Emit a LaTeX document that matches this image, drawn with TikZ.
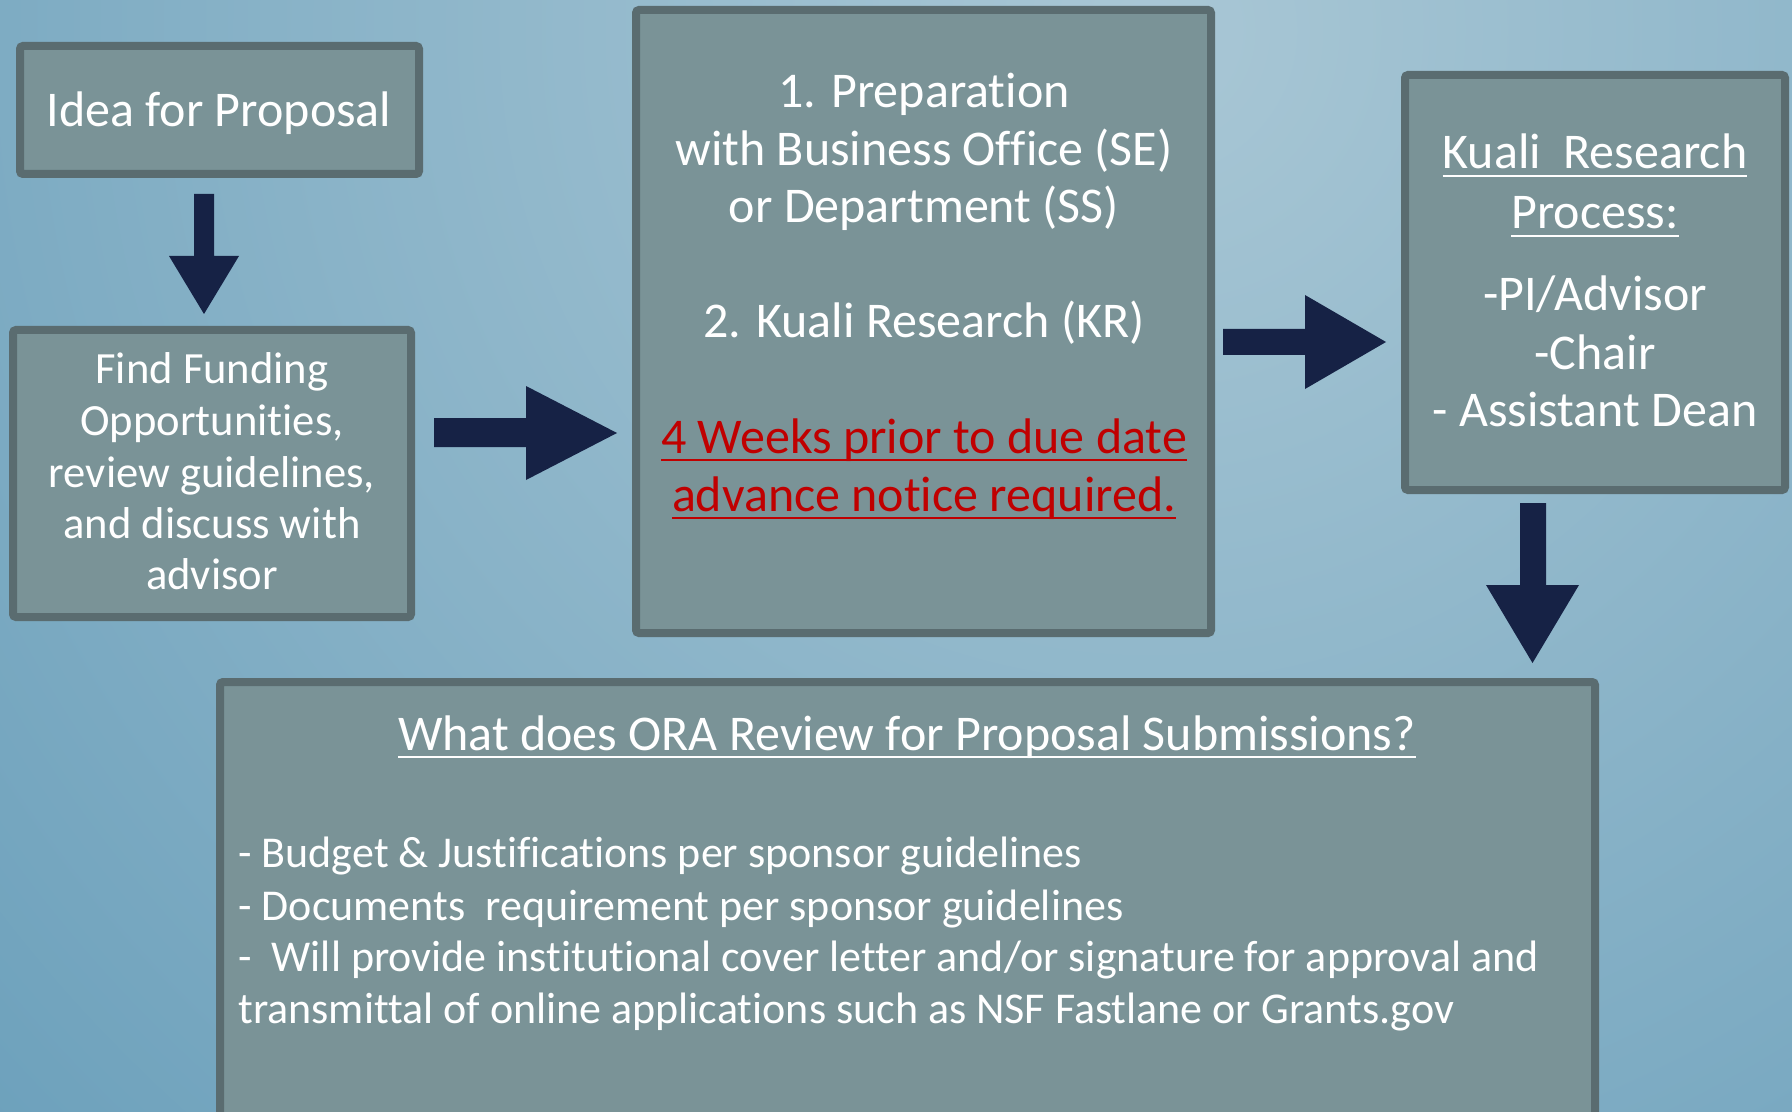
\documentclass[tikz,border=0pt]{standalone}
\usepackage{fontspec}
\setmainfont{Carlito}[Ligatures=NoCommon]
\definecolor{bgin}{HTML}{A9C7D5}
\definecolor{bgout}{HTML}{5A95B4}
\definecolor{boxfill}{HTML}{7A9397}
\definecolor{boxdraw}{HTML}{5A6C70}
\definecolor{arrowc}{HTML}{162245}
\definecolor{redtxt}{HTML}{C00000}
\newcommand\myul[1]{\setbox0\hbox{#1}\rlap{\rule[-4pt]{\wd0}{1.1pt}}\box0}
\begin{document}
\begin{tikzpicture}[x=0.5pt,y=-0.5pt,
  box/.style={draw=boxdraw, fill=boxfill, line width=4pt, rounded corners=1.5pt, inner sep=0},
  txt/.style={anchor=base, inner sep=0, text=white, font=\fontsize{25}{30}\selectfont},
  stxt/.style={txt, font=\fontsize{22.3}{27}\selectfont},
  ltxt/.style={txt, anchor=base west, font=\fontsize{22}{27}\selectfont},
  blockarrow/.style={fill=arrowc, draw=none}]
\useasboundingbox (0,0) rectangle (1792,1112);
\begin{scope}
\clip (0,0) rectangle (1792,1112);
\shade[inner color=bgin, outer color=bgout] (1150,30) circle (2100);
\end{scope}
% boxes
\node[box, minimum width=199.5pt, minimum height=64pt] (idea) at (219.5,110) {};
\node[box, minimum width=199pt, minimum height=143.5pt] (find) at (212,473.5) {};
\node[box, minimum width=287.5pt, minimum height=311.5pt] (prep) at (923.5,321.5) {};
\node[box, minimum width=190pt, minimum height=207.5pt] (kuali) at (1595,282.5) {};
\node[box, minimum width=687.5pt, minimum height=221.5pt] (ora) at (907.5,903.5) {};
% arrows
\fill[blockarrow] (194,194) -- (214,194) -- (214,256) -- (239,256) -- (204,314) -- (169,256) -- (194,256) -- cycle;
\fill[blockarrow] (434,418) -- (526,418) -- (526,386) -- (617,433) -- (526,480) -- (526,447) -- (434,447) -- cycle;
\fill[blockarrow] (1223,329) -- (1305,329) -- (1305,295) -- (1386,342) -- (1305,389) -- (1305,355) -- (1223,355) -- cycle;
\fill[blockarrow] (1520,503) -- (1546,503) -- (1546,585) -- (1579,585) -- (1532.5,663) -- (1486,585) -- (1520,585) -- cycle;
% texts
\node[txt] (t1) at (219,127) {Idea for Proposal};
\node[stxt] (f1) at (212,384) {Find Funding};
\node[stxt] (f2) at (212,435) {Opportunities,};
\node[stxt] (f3) at (212,487) {review guidelines,};
\node[stxt] (f4) at (212,538) {and discuss with};
\node[stxt] (f5) at (212,589) {advisor};
\node[txt] (p1) at (924,108) {1. Preparation};
\node[txt] (p2) at (924,166) {with Business Office (SE)};
\node[txt] (p3) at (924,223) {or Department (SS)};
\node[txt] (p4) at (924,338) {2. Kuali Research (KR)};
\node[txt, text=redtxt] (p5) at (924,453) {\myul{4 Weeks prior to due date}};
\node[txt, text=redtxt] (p6) at (924,511) {\myul{advance notice required.}};
\node[txt] (k1) at (1595,169) {\myul{Kuali\ \ Research}};
\node[txt] (k2) at (1595,229) {\myul{Process:}};
\node[txt] (k3) at (1595,311) {-PI/Advisor};
\node[txt] (k4) at (1595,370) {-Chair};
\node[txt] (k5) at (1595,426) {- Assistant Dean};
\node[txt] (o0) at (907,750) {\myul{What does ORA Review for Proposal Submissions?}};
\node[ltxt] (o1) at (238,867) {- Budget \& Justifications per sponsor guidelines};
\node[ltxt] (o2) at (238,920) {- Documents\ \ requirement per sponsor guidelines};
\node[ltxt] (o3) at (238,971) {-\ \ Will provide institutional cover letter and/or signature for approval and};
\node[ltxt] (o4) at (238,1023) {transmittal of online applications such as NSF Fastlane or Grants.gov};
\end{tikzpicture}
\end{document}
